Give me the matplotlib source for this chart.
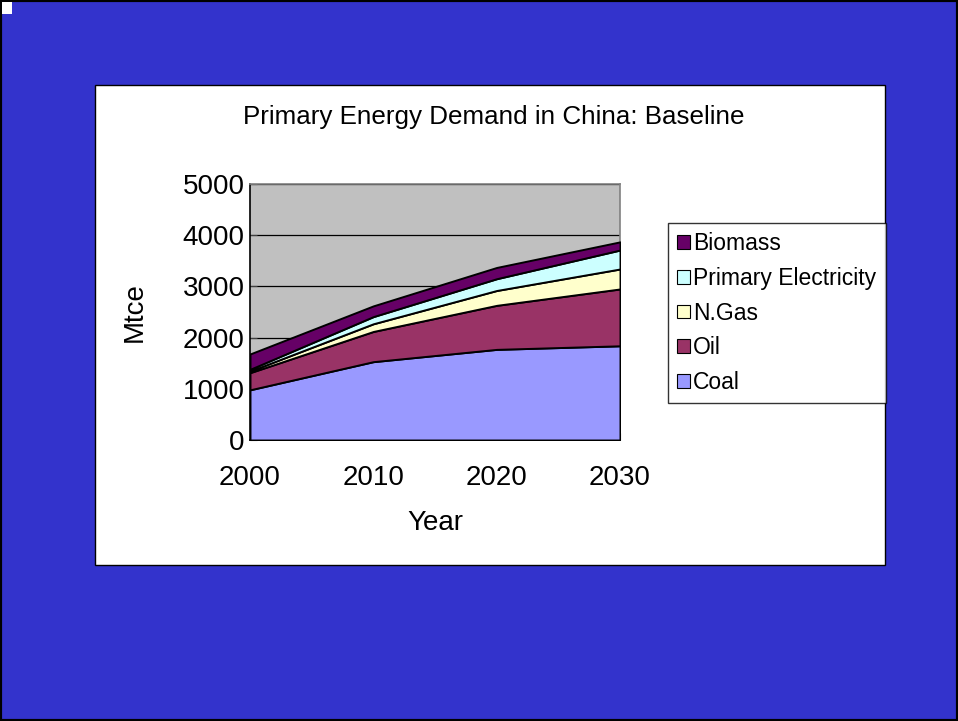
import matplotlib
matplotlib.use("Agg")
import matplotlib.pyplot as plt
from matplotlib.patches import Rectangle, Patch

plt.rcParams['font.family'] = ['Liberation Sans', 'DejaVu Sans']

years = [2000, 2010, 2020, 2030]
series_names = ["Coal", "Oil", "N.Gas", "Primary Electricity", "Biomass"]
coal = [980, 1530, 1770, 1840]
oil = [335, 590, 860, 1110]
ngas = [30, 150, 290, 390]
electricity = [35, 140, 230, 370]
biomass = [300, 210, 220, 160]
colors = ["#9999FF", "#993366", "#FFFFCC", "#CCFFFF", "#660066"]
yticks = [0, 1000, 2000, 3000, 4000, 5000]

W, H = 958, 721
fig = plt.figure(figsize=(W / 100, H / 100), dpi=100)
fig.patch.set_facecolor("#3333CC")

# slide frame and corner marker
fig.add_artist(Rectangle((0, 0), 1, 1, transform=fig.transFigure,
                         fill=False, edgecolor="black", linewidth=3))
fig.add_artist(Rectangle((2 / W, 1 - 14 / H), 10 / W, 12 / H,
                         transform=fig.transFigure, facecolor="white",
                         edgecolor="none"))

# white chart panel
fig.add_artist(Rectangle((95 / W, 1 - 565 / H), 790 / W, 480 / H,
                         transform=fig.transFigure, facecolor="white",
                         edgecolor="black", linewidth=1, zorder=0))

ax = fig.add_axes([250 / W, 1 - 440 / H, 370 / W, 256 / H])
ax.set_facecolor("#C0C0C0")
ax.stackplot(years, coal, oil, ngas, electricity, biomass,
             colors=colors, edgecolor="black", linewidth=1.4,
             labels=series_names, zorder=3)

ax.set_xlim(2000, 2030)
ax.set_ylim(0, 5000)
ax.set_xticks(years)
ax.set_yticks(yticks)
ax.yaxis.grid(True, color="black", linewidth=0.9, zorder=1)
ax.set_axisbelow(True)
ax.tick_params(axis="x", direction="in", length=5, labelsize=20, pad=18,
               color="#404040")
ax.tick_params(axis="y", direction="in", length=5, labelsize=20, pad=4,
               color="#404040")
for side in ("left", "bottom"):
    ax.spines[side].set_color("black")
    ax.spines[side].set_linewidth(1.2)
for side in ("top", "right"):
    ax.spines[side].set_color("#808080")
    ax.spines[side].set_linewidth(1.2)

ax.set_xlabel("Year", fontsize=20, labelpad=14)
ax.set_ylabel("Mtce", fontsize=20, labelpad=25)

fig.text(494 / W, 1 - 117 / H, "Primary Energy Demand in China: Baseline",
         ha="center", va="center", fontsize=18.7)

handles = [Patch(facecolor=c, edgecolor="black", linewidth=0.8) for c in colors]
leg = fig.legend(handles[::-1], series_names[::-1],
                 loc="upper left", bbox_to_anchor=(668 / W, 1 - 223 / H),
                 fontsize=16.5, frameon=True, fancybox=False, shadow=False,
                 handlelength=0.55, handleheight=0.55, handletextpad=0.15,
                 labelspacing=0.51, borderpad=0.4, borderaxespad=0)
leg.get_frame().set_edgecolor("black")
leg.get_frame().set_linewidth(1)

fig.savefig("out.png", dpi=100, facecolor=fig.get_facecolor())
